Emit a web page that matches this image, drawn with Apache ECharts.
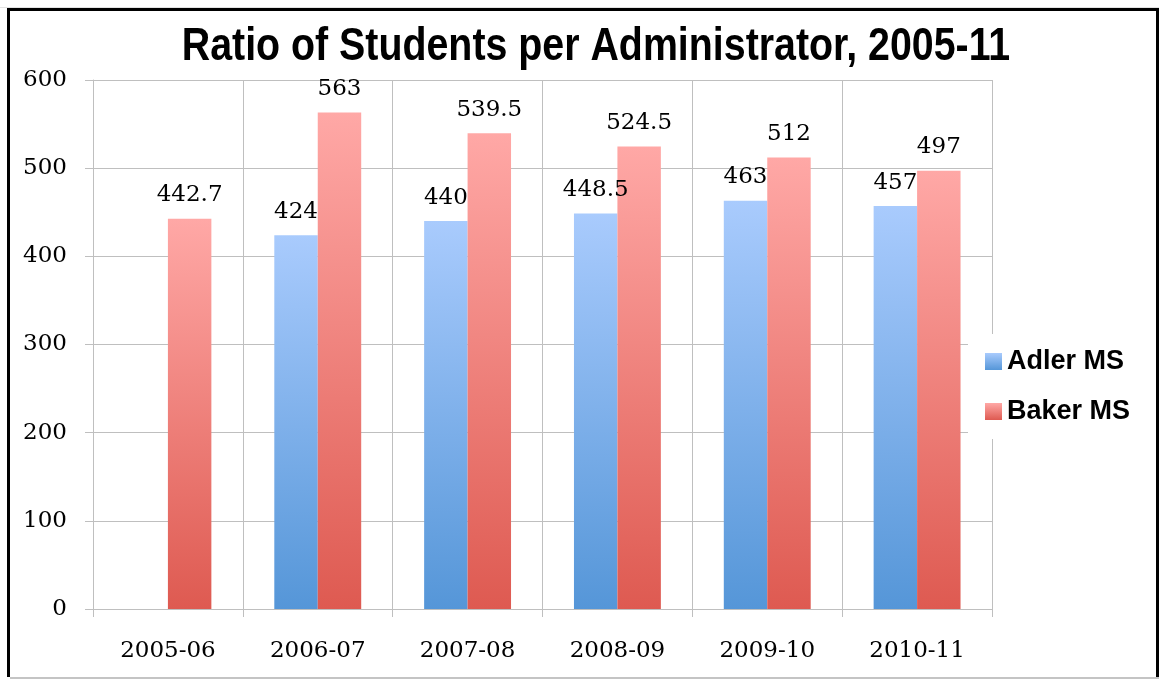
<!DOCTYPE html>
<html>
<head>
<meta charset="utf-8">
<title>Ratio of Students per Administrator, 2005-11</title>
<script src="https://cdn.jsdelivr.net/npm/echarts@6/dist/echarts.min.js"></script>
<style>
  html, body { margin: 0; padding: 0; background: #ffffff; }
  #chart { width: 1159px; height: 680px; }
</style>
</head>
<body>
<div id="chart"></div>
<script>
// School years on the category axis
const categories = ['2005-06', '2006-07', '2007-08', '2008-09', '2009-10', '2010-11'];
// Students per administrator (no Adler figure for 2005-06)
const adlerValues = [null, 424, 440, 448.5, 463, 457];
const bakerValues = [442.7, 563, 539.5, 524.5, 512, 497];
const seriesNames = ['Adler MS', 'Baker MS'];
const chartTitle = 'Ratio of Students per Administrator, 2005-11';
const yTicks = { min: 0, max: 600, interval: 100 };

const serifFont = '"DejaVu Serif", "Liberation Serif", serif';
const sansBold = '"Liberation Sans", Arial, sans-serif';
const gridGray = '#bfbfbf';

function vGrad(top, bottom) {
  return new echarts.graphic.LinearGradient(0, 0, 0, 1, [
    { offset: 0, color: top },
    { offset: 1, color: bottom }
  ]);
}
const adlerFill = vGrad('#a9cbfd', '#5596d8');
const bakerFill = vGrad('#ffa8a6', '#de5a51');

const chart = echarts.init(document.getElementById('chart'), null, { renderer: 'canvas' });

const barLabel = {
  show: true,
  position: 'top',
  distance: 12,
  color: '#000000',
  fontFamily: serifFont,
  fontSize: 23,
  formatter: p => String(p.value)
};

chart.setOption({
  backgroundColor: '#ffffff',
  animation: false,
  legend: {
    orient: 'vertical',
    left: 968,
    top: 334,
    padding: [14, 14, 14, 17],
    backgroundColor: '#ffffff',
    itemWidth: 17,
    itemHeight: 17,
    itemGap: 23,
    icon: 'rect',
    textStyle: {
      fontFamily: sansBold,
      fontWeight: 'bold',
      fontSize: 27,
      color: '#000000'
    },
    data: [
      { name: seriesNames[0], itemStyle: { color: adlerFill } },
      { name: seriesNames[1], itemStyle: { color: bakerFill } }
    ]
  },
  grid: {
    left: 93,
    top: 80,
    width: 899,
    height: 529,
    containLabel: false
  },
  xAxis: {
    type: 'category',
    data: categories,
    axisLine: { show: true, lineStyle: { color: gridGray, width: 1 } },
    axisTick: { show: true, length: 8, lineStyle: { color: gridGray } },
    splitLine: { show: true, lineStyle: { color: gridGray, width: 1 } },
    axisLabel: {
      margin: 31,
      color: '#000000',
      fontFamily: serifFont,
      fontSize: 23
    }
  },
  yAxis: {
    type: 'value',
    min: yTicks.min,
    max: yTicks.max,
    interval: yTicks.interval,
    axisLine: { show: true, lineStyle: { color: gridGray, width: 1 } },
    axisTick: { show: true, length: 8, lineStyle: { color: gridGray } },
    splitLine: { show: true, lineStyle: { color: gridGray, width: 1 } },
    axisLabel: {
      margin: 26,
      color: '#000000',
      fontFamily: serifFont,
      fontSize: 23
    }
  },
  series: [
    {
      name: seriesNames[0],
      type: 'bar',
      data: adlerValues,
      barGap: '0%',
      barCategoryGap: '42%',
      itemStyle: { color: adlerFill },
      label: barLabel,
      z: 3
    },
    {
      name: seriesNames[1],
      type: 'bar',
      data: bakerValues,
      barGap: '0%',
      barCategoryGap: '42%',
      itemStyle: { color: bakerFill },
      label: barLabel,
      z: 3
    }
  ],
  graphic: [
    // condensed bold heading
    {
      type: 'text',
      silent: true,
      z: 50,
      x: 596,
      y: 47,
      scaleX: 0.837,
      style: {
        text: chartTitle,
        fontFamily: sansBold,
        fontWeight: 'bold',
        fontSize: 47,
        fill: '#000000',
        align: 'center',
        verticalAlign: 'middle'
      }
    },
    // frame around the chart
    {
      type: 'rect',
      silent: true,
      z: 100,
      shape: { x: 0, y: 7, width: 1159, height: 0.5 },
      style: { fill: '#c8c8c8' }
    },
    {
      type: 'rect',
      silent: true,
      z: 100,
      shape: { x: 8.5, y: 9.5, width: 1149, height: 690 },
      style: { fill: 'none', stroke: '#000000', lineWidth: 3 }
    },
    {
      type: 'rect',
      silent: true,
      z: 101,
      shape: { x: 0, y: 677, width: 1159, height: 3 },
      style: { fill: '#ffffff' }
    },
    {
      type: 'rect',
      silent: true,
      z: 102,
      shape: { x: 10, y: 677, width: 1149, height: 2 },
      style: { fill: '#c4c4c4' }
    }
  ]
});
</script>
</body>
</html>
